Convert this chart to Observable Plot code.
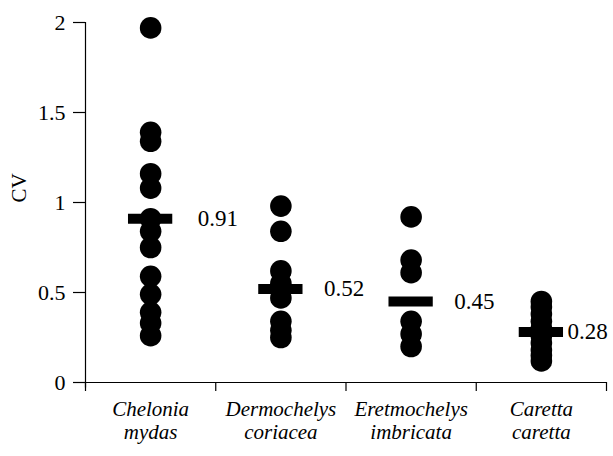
<!DOCTYPE html>
<html>
<head>
<meta charset="utf-8">
<script src="https://cdn.jsdelivr.net/npm/d3@7"></script>
<script src="https://cdn.jsdelivr.net/npm/@observablehq/plot@0.6"></script>
<style>
  html, body { margin: 0; padding: 0; background: #fff; }
  #chart svg { display: block; }
  #chart svg, #chart svg text { font-family: "Liberation Serif", "Times New Roman", serif !important; }
</style>
</head>
<body>
<div id="chart"></div>
<script>
const categories = ["Chelonia\nmydas", "Dermochelys\ncoriacea", "Eretmochelys\nimbricata", "Caretta\ncaretta"];
const cheloniaCV = [1.97, 1.39, 1.34, 1.16, 1.08, 0.91, 0.84, 0.75, 0.59, 0.49, 0.39, 0.33, 0.26];
const dermochelysCV = [0.98, 0.84, 0.62, 0.55, 0.47, 0.34, 0.29, 0.25];
const eretmochelysCV = [0.92, 0.68, 0.61, 0.34, 0.27, 0.20];
const carettaCV = [0.45, 0.42, 0.38, 0.34, 0.30, 0.26, 0.22, 0.18, 0.15, 0.12];
const means = [0.91, 0.52, 0.45, 0.28];
const meanLabels = ["0.91", "0.52", "0.45", "0.28"];
const yTicks = [0, 0.5, 1, 1.5, 2];

const series = [cheloniaCV, dermochelysCV, eretmochelysCV, carettaCV];
const points = series.flatMap((vals, i) => vals.map(v => ({i, v})));
const meanRows = means.map((m, i) => ({i, m, label: meanLabels[i]}));
const labelDx = [47, 43, 43, 26];

const font = "Liberation Serif";

const chart = Plot.plot({
  width: 613,
  height: 456,
  marginLeft: 85,
  marginRight: 7,
  marginTop: 22,
  marginBottom: 74,
  style: {fontFamily: font, fontSize: "22px", color: "#000", background: "#fff"},
  x: {type: "linear", domain: [0, categories.length], axis: null},
  y: {domain: [0, 2], axis: null},
  marks: [
    Plot.axisY({ticks: yTicks, tickSize: 12, tickPadding: 8, tickFormat: d => String(d),
      label: null, fontSize: 22, fontFamily: font, strokeWidth: 1.2}),
    Plot.text(["CV"], {frameAnchor: "left", dx: -66, rotate: -90, fontSize: 21, fontFamily: font, fill: "#000"}),
    Plot.axisX({ticks: d3.range(categories.length + 1), tickSize: 9, tickFormat: () => "", label: null, strokeWidth: 1.2}),
    Plot.axisX({ticks: categories.map((c, i) => i + 0.5), tickSize: 0, tickPadding: 17,
      tickFormat: d => categories[Math.floor(d)], label: null, fontSize: 21, fontFamily: font, fontStyle: "italic", lineHeight: 1.1}),
    Plot.ruleX([0], {y1: -0.03, y2: 2, stroke: "#000", strokeWidth: 1.2}),
    Plot.ruleY([0], {x1: -0.04, x2: categories.length, stroke: "#000", strokeWidth: 1.2}),
    Plot.dot(points, {x: d => d.i + 0.5, y: "v", r: 10.8, fill: "#000", stroke: null}),
    Plot.ruleY(meanRows, {y: "m", x1: d => d.i + 0.5 - 0.17, x2: d => d.i + 0.5 + 0.17, stroke: "#000", strokeWidth: 10}),
    ...meanRows.map((r, k) => Plot.text([r], {x: d => d.i + 0.5, y: "m", text: "label", dx: labelDx[k],
      textAnchor: "start", fontSize: 23, fontFamily: font, fill: "#000"}))
  ]
});
document.getElementById("chart").appendChild(chart);
</script>
</body>
</html>
